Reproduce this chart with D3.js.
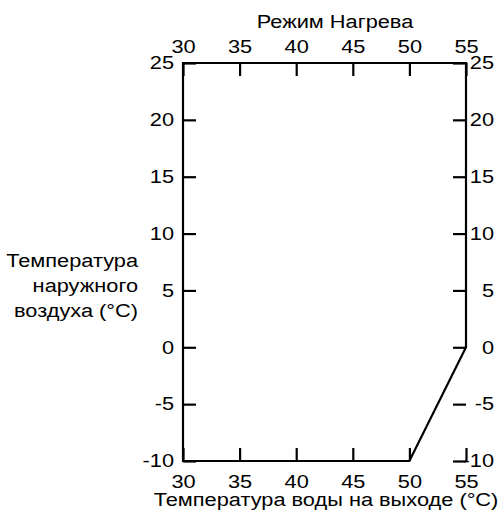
<!DOCTYPE html>
<html>
<head>
<meta charset="utf-8">
<script src="https://cdn.jsdelivr.net/npm/d3@7"></script>
<style>
  body { margin: 0; background: #fff; }
  text { font-family: "Liberation Sans", Arial, sans-serif; fill: #000; }
</style>
</head>
<body>
<div id="chart"></div>
<script>
// operating envelope, heating mode
const waterTemp = [30, 30, 55, 55, 50];
const airTemp = [-10, 25, 25, 0, -10];
const xTicks = [30, 35, 40, 45, 50, 55];
const yTicks = [-10, -5, 0, 5, 10, 15, 20, 25];
const topTitle = "Режим Нагрева";
const bottomTitle = "Температура воды на выходе (°C)";
const leftTitle = ["Температура", "наружного", "воздуха (°C)"];

const width = 499;
const height = 517;
const margin = { top: 63, right: 33, bottom: 56, left: 183 };

const svg = d3.select("#chart")
    .append("svg")
    .attr("width", width)
    .attr("height", height);

const x = d3.scaleLinear().domain([30, 55]).range([margin.left, width - margin.right]);
const y = d3.scaleLinear().domain([-10, 25]).range([height - margin.bottom, margin.top]);

const fs = 18;
const sx = 1.21;   // the original type is set a bit wider than Arial
const tick = 13;
const plain = d => String(d);   // plain hyphen, not the unicode minus

// widen text horizontally around its own anchor point
function stretch(sel) {
    sel.attr("transform", function () {
        const x0 = +this.getAttribute("x") || 0;
        return `translate(${x0},0) scale(${sx},1) translate(${-x0},0)`;
    });
}

// the envelope itself
const pts = waterTemp.map((d, i) => [x(d), y(airTemp[i])]);
svg.append("path")
    .attr("d", d3.line()(pts) + "Z")
    .attr("fill", "none")
    .attr("stroke", "#000")
    .attr("stroke-width", 2.2)
    .attr("stroke-linejoin", "miter");

// axes: ticks only, pointing inwards, no domain line
function axis(gen, transform, fix) {
    const g = svg.append("g").attr("transform", transform).call(gen.tickFormat(plain));
    g.select(".domain").remove();
    g.selectAll(".tick line").attr("stroke", "#000").attr("stroke-width", 2.2);
    const t = g.selectAll(".tick text")
        .attr("font-size", fs)
        .attr("font-family", "Liberation Sans, Arial, sans-serif");
    if (fix) fix(t);
    t.call(stretch);
    return g;
}

axis(d3.axisBottom(x).tickValues(xTicks).tickSizeInner(-tick).tickPadding(14),
    `translate(0,${y(-10)})`);
axis(d3.axisTop(x).tickValues(xTicks).tickSizeInner(-tick).tickPadding(10),
    `translate(0,${y(25)})`);
axis(d3.axisLeft(y).tickValues(yTicks).tickSizeInner(-tick).tickPadding(9),
    `translate(${x(30)},0)`);
// right-hand labels are right-aligned near the page edge
axis(d3.axisRight(y).tickValues(yTicks).tickSizeInner(-tick).tickPadding(7),
    `translate(${x(55)},0)`,
    t => t.attr("text-anchor", "end").attr("x", 494 - x(55)));

svg.append("text")
    .attr("x", 335)
    .attr("y", 28)
    .attr("text-anchor", "middle")
    .attr("font-size", fs)
    .text(topTitle)
    .call(stretch);

svg.append("text")
    .attr("x", 326)
    .attr("y", 506)
    .attr("text-anchor", "middle")
    .attr("font-size", fs)
    .text(bottomTitle)
    .call(stretch);

svg.append("g").selectAll("text")
    .data(leftTitle)
    .join("text")
    .attr("x", 138)
    .attr("y", (d, i) => 267 + i * 25)
    .attr("text-anchor", "end")
    .attr("font-size", fs)
    .text(d => d)
    .call(stretch);
</script>
</body>
</html>
